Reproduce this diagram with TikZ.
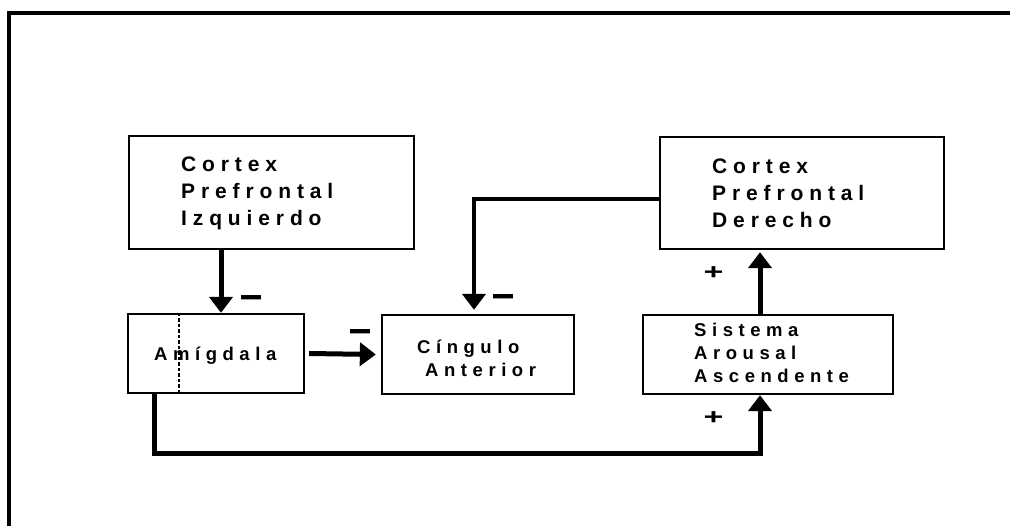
\documentclass[tikz,border=0pt]{standalone}
\usepackage{fontspec}
\setmainfont{Liberation Sans}
\newfontfamily\spacedA[LetterSpace=28]{Liberation Sans Bold}
\newfontfamily\spacedB[LetterSpace=30]{Liberation Sans Bold}
\newfontfamily\boldsign{Liberation Sans Bold}
\usetikzlibrary{arrows.meta}
\tikzset{
  box/.style={draw, line width=2.3pt, inner sep=0pt},
  txtbig/.style={anchor=west, inner sep=0pt, align=left, font=\spacedA\fontsize{21}{27}\selectfont},
  txtsmall/.style={anchor=west, inner sep=0pt, align=left, font=\spacedB\fontsize{18.5}{23}\selectfont},
  arr/.style={line width=5pt, -{Triangle[width=23pt,length=16pt]}},
  sign/.style={inner sep=0pt, font=\boldsign\fontsize{20}{20}\selectfont}
}
\begin{document}
\begin{tikzpicture}[x=1pt,y=1pt]
\useasboundingbox (0,0) rectangle (1010,-526);
\fill[white] (0,0) rectangle (1010,-526);
% outer frame (only left and top visible)
\draw[line width=4pt] (9,-528) -- (9,-13) -- (1012,-13);

% boxes
\node[box, minimum width=285pt, minimum height=113pt] (cpi) at (271.5,-192.5) {};
\node[box, minimum width=284pt, minimum height=112pt] (cpd) at (802,-193) {};
\node[box, minimum width=176pt, minimum height=79pt] (amig) at (216,-353.5) {};
\node[box, minimum width=192pt, minimum height=79pt] (cing) at (478,-354.5) {};
\node[box, minimum width=250pt, minimum height=79pt] (saa) at (768,-354.5) {};

% texts
\node[txtbig] (tcpi) at (181,-193) {Cortex\\Prefrontal\\Izquierdo};
\node[txtbig] (tcpd) at (712,-193) {Cortex\\Prefrontal\\Derecho};
\node[txtsmall] (tamig) at (154,-356) {Amígdala};
\node[txtsmall] (tcing) at (417,-358) {Cíngulo\\\hspace{8pt}Anterior};
\node[txtsmall] (tsaa) at (694,-353) {Sistema\\Arousal\\Ascendente};

% dashed divider in Amigdala
\draw[dashed, line width=1.3pt, dash pattern=on 3.5pt off 2pt] ([xshift=-37pt]amig.north) -- ([xshift=-37pt]amig.south);

% connectors
\draw[arr] ([xshift=-50.5pt]cpi.south) -- ([xshift=-50.5pt]cpi.south |- amig.north);
\draw[arr] ([xshift=4pt]amig.east) -- ([xshift=-5pt]cing.west);
\draw[arr, line width=4pt] ([yshift=-6pt]cpd.west) -| ([xshift=-4pt,yshift=4pt]cing.north);
\draw[arr] ([xshift=-8pt]saa.north) -- ([xshift=-8pt,yshift=-2pt]saa.north |- cpd.south);
\draw[arr] ([xshift=-62pt]amig.south) -- ++(0,-59) -| ([xshift=-8pt]saa.south);

% signs
\node[sign] (m1) at (251,-303) {\scalebox{1}[2.2]{—}};
\node[sign] (m2) at (360,-337) {\scalebox{1}[2.2]{—}};
\node[sign] (m3) at (503.5,-302) {\scalebox{1}[2.2]{—}};
\node[sign, font=\boldsign\fontsize{22}{22}\selectfont] (p1) at (713.5,-273) {\scalebox{1.55}[1]{+}};
\node[sign, font=\boldsign\fontsize{22}{22}\selectfont] (p2) at (713.5,-418) {\scalebox{1.55}[1]{+}};
\end{tikzpicture}
\end{document}
